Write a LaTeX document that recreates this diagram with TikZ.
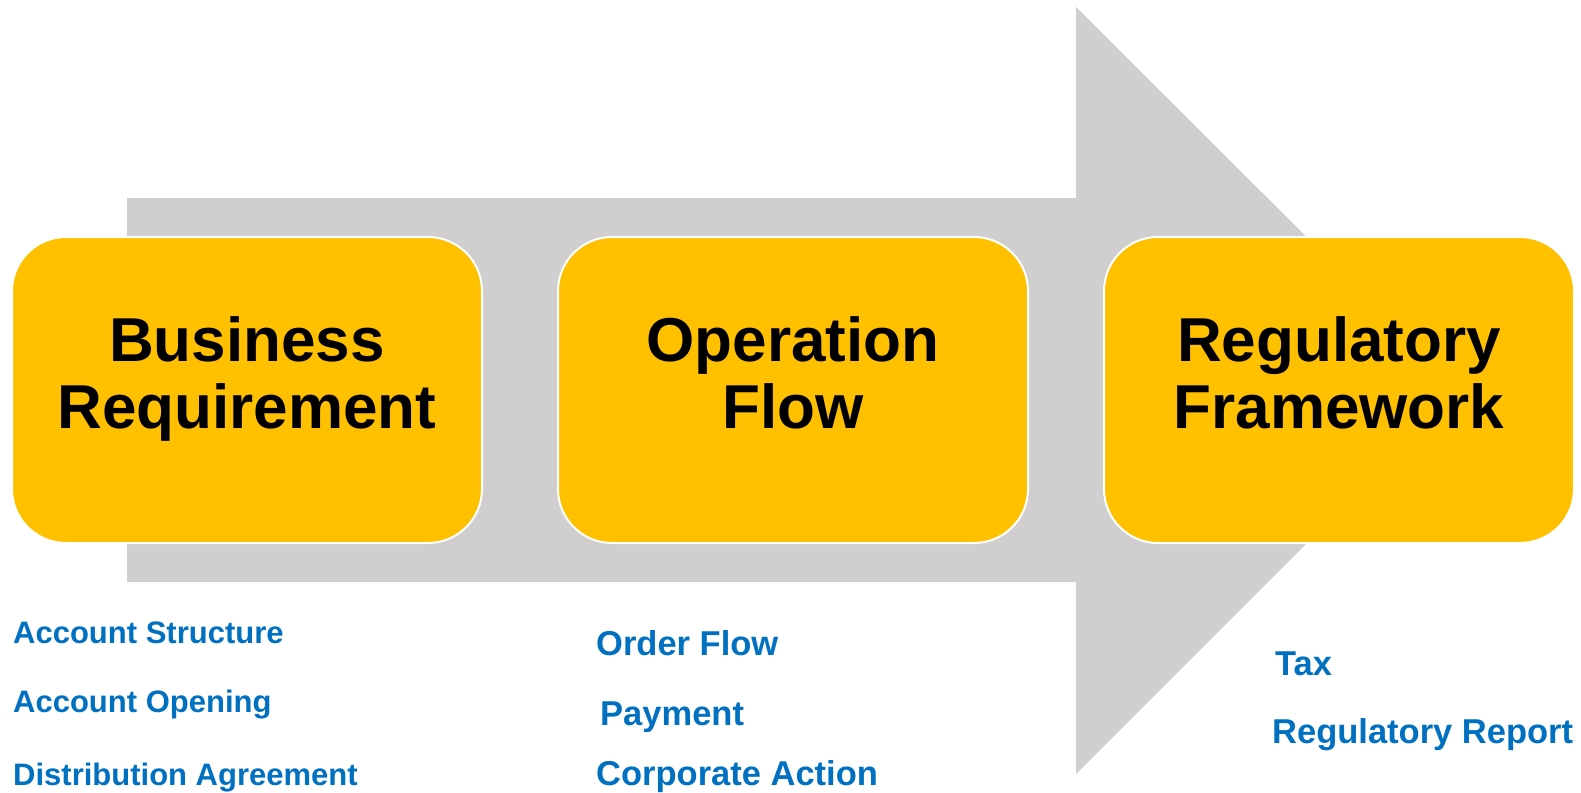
\documentclass[tikz,border=0pt]{standalone}
\usepackage{fontspec}
\setmainfont{Liberation Sans}
\definecolor{arrowgray}{RGB}{208,206,207}
\definecolor{stageyellow}{RGB}{255,192,0}
\definecolor{itemblue}{RGB}{0,112,192}
\begin{document}
\begin{tikzpicture}[x=1pt,y=-1pt,
    stage/.style={fill=stageyellow, draw=white, line width=2pt, rounded corners=54pt,
                  minimum width=470pt, minimum height=306pt, inner sep=0pt},
    title/.style={align=center, inner sep=0pt, font=\fontsize{62}{67}\selectfont\bfseries},
    item/.style={anchor=base west, inner sep=0pt, text=itemblue,
                 font=\fontsize{31}{36}\selectfont\bfseries},
    bigitem/.style={item, font=\fontsize{34.5}{40}\selectfont\bfseries}]
    \useasboundingbox (0,0) rectangle (1581,792);

    \fill[arrowgray] (127,198) -- (1076,198) -- (1076,7) -- (1460,390)
        -- (1076,774) -- (1076,582) -- (127,582) -- cycle;

    \node[stage] (biz) at (247,390)  {};
    \node[stage] (ops) at (793,390)  {};
    \node[stage] (reg) at (1339,390) {};

    \node[title] (bizT) at ([yshift=8pt]biz.center) {\strut Business\\\strut Requirement};
    \node[title] (opsT) at ([yshift=8pt]ops.center) {\strut Operation\\\strut Flow};
    \node[title] (regT) at ([yshift=8pt]reg.center) {\strut Regulatory\\\strut Framework};

    \node[item] (acctS) at (13,643)   {Account Structure};
    \node[item] (acctO) at (13,712)   {Account Opening};
    \node[item] (distA) at (13,785)   {Distribution Agreement};

    \node[bigitem] (order) at (596,655)  {Order Flow};
    \node[bigitem] (pay)   at (600,725)  {Payment};
    \node[bigitem] (corp)  at (596,785)  {Corporate Action};

    \node[bigitem] (tax)   at (1275,675) {Tax};
    \node[bigitem] (regR)  at (1272,743) {Regulatory Report};
\end{tikzpicture}
\end{document}
